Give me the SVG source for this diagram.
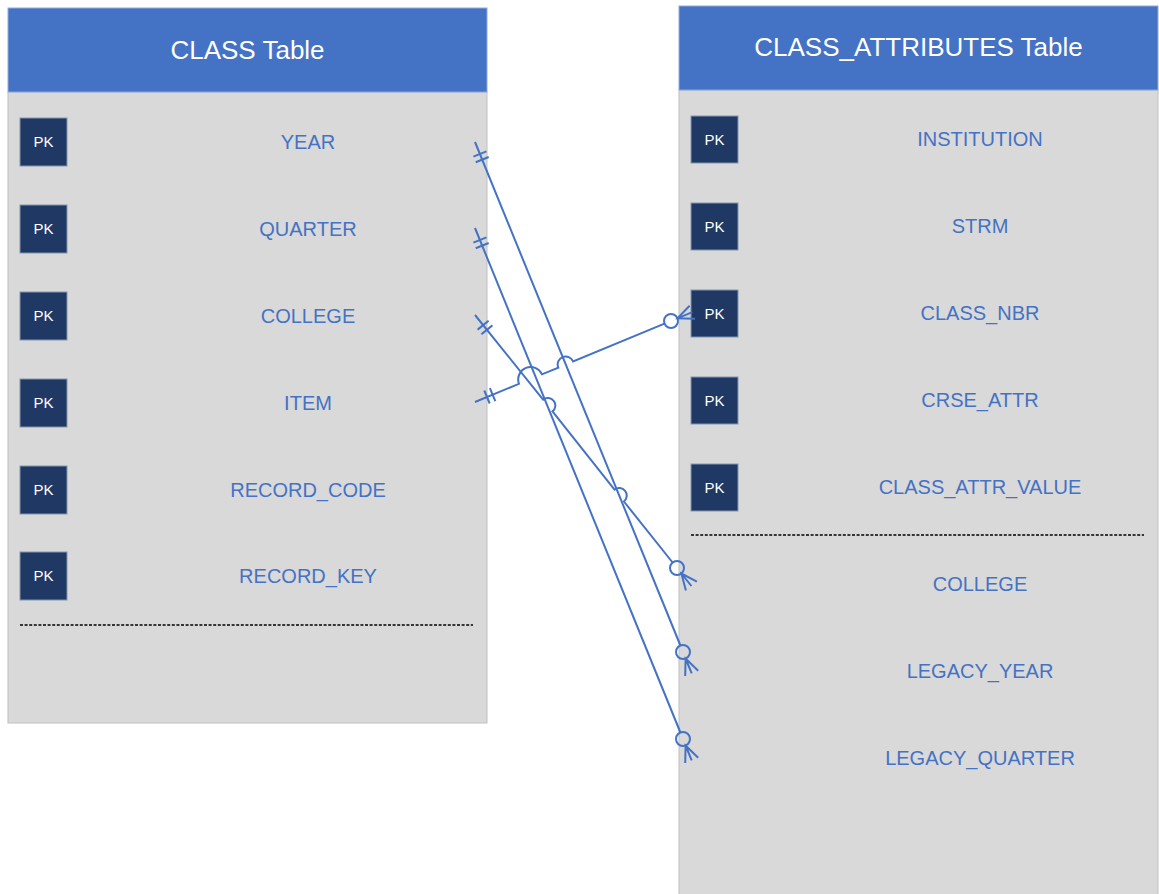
<svg xmlns="http://www.w3.org/2000/svg" width="1159" height="894" viewBox="0 0 1159 894">
<style>
.hdr{fill:#4472C4;stroke:#8FAADC;stroke-width:1}
.body{fill:#D9D9D9;stroke:#C0C0C0;stroke-width:1}
.title{font-family:"Liberation Sans",Arial,sans-serif;font-size:26px;fill:#FFFFFF;text-anchor:middle}
.field{font-family:"Liberation Sans",Arial,sans-serif;font-size:20px;fill:#4472C4;text-anchor:middle}
.pk{fill:#1F3864;stroke:#8497B0;stroke-width:1}
.pkt{font-family:"Liberation Sans",Arial,sans-serif;font-size:15px;fill:#FFFFFF;text-anchor:middle}
.dash{stroke:#000000;stroke-width:1.5;stroke-dasharray:3 1.6;fill:none}
.conn path,.conn line{stroke:#4472C4;stroke-width:2;fill:none}
.conn circle{stroke:#4472C4;stroke-width:2;fill:none}
</style>
<rect width="1159" height="894" fill="#FFFFFF"/>
<g id="class-table">
<rect class="body" x="8" y="92" width="479" height="631"/>
<rect class="hdr" x="8" y="8" width="479" height="84"/>
<text class="title" x="247.5" y="59">CLASS Table</text>
<rect class="pk" x="20" y="118" width="47" height="48"/><text class="pkt" x="43.5" y="147">PK</text><text class="field" x="308" y="149">YEAR</text>
<rect class="pk" x="20" y="205" width="47" height="48"/><text class="pkt" x="43.5" y="234">PK</text><text class="field" x="308" y="236">QUARTER</text>
<rect class="pk" x="20" y="292" width="47" height="48"/><text class="pkt" x="43.5" y="321">PK</text><text class="field" x="308" y="323">COLLEGE</text>
<rect class="pk" x="20" y="379" width="47" height="48"/><text class="pkt" x="43.5" y="408">PK</text><text class="field" x="308" y="410">ITEM</text>
<rect class="pk" x="20" y="466" width="47" height="48"/><text class="pkt" x="43.5" y="495">PK</text><text class="field" x="308" y="497">RECORD_CODE</text>
<rect class="pk" x="20" y="552" width="47" height="48"/><text class="pkt" x="43.5" y="581">PK</text><text class="field" x="308" y="583">RECORD_KEY</text>
<line class="dash" x1="20" y1="625" x2="473" y2="625"/>
</g>
<g id="class-attributes-table">
<rect class="body" x="679" y="90" width="479" height="805"/>
<rect class="hdr" x="679" y="6" width="479" height="84"/>
<text class="title" x="918.5" y="56">CLASS_ATTRIBUTES Table</text>
<rect class="pk" x="691" y="116" width="47" height="47"/><text class="pkt" x="714.5" y="145">PK</text><text class="field" x="980" y="146">INSTITUTION</text>
<rect class="pk" x="691" y="203" width="47" height="47"/><text class="pkt" x="714.5" y="232">PK</text><text class="field" x="980" y="233">STRM</text>
<rect class="pk" x="691" y="290" width="47" height="47"/><text class="pkt" x="714.5" y="319">PK</text><text class="field" x="980" y="320">CLASS_NBR</text>
<rect class="pk" x="691" y="377" width="47" height="47"/><text class="pkt" x="714.5" y="406">PK</text><text class="field" x="980" y="407">CRSE_ATTR</text>
<rect class="pk" x="691" y="464" width="47" height="47"/><text class="pkt" x="714.5" y="493">PK</text><text class="field" x="980" y="494">CLASS_ATTR_VALUE</text>
<line class="dash" x1="691" y1="535" x2="1144" y2="535"/>
<text class="field" x="980" y="591">COLLEGE</text>
<text class="field" x="980" y="678">LEGACY_YEAR</text>
<text class="field" x="980" y="765">LEGACY_QUARTER</text>
</g>
<g id="connectors" class="conn">
<g id="year-legacy-year">
<path d="M475 142 L680.4 645.5"/>
<line x1="473.4" y1="156.6" x2="486.4" y2="151.4"/>
<line x1="475.7" y1="162.2" x2="488.7" y2="157.0"/>
<circle cx="683" cy="652" r="7"/>
<path d="M698.2 670.7 L685.6 658.5 L685.2 675.9 M685.6 658.5 L691.7 673.3"/>
</g>
<g id="quarter-legacy-quarter">
<path d="M475 228 L680.4 732.5"/>
<line x1="473.4" y1="242.6" x2="486.4" y2="237.4"/>
<line x1="475.7" y1="248.2" x2="488.7" y2="243.0"/>
<circle cx="683" cy="739" r="7"/>
<path d="M698.2 757.7 L685.6 745.5 L685.2 762.9 M685.6 745.5 L691.7 760.3"/>
</g>
<g id="college-college">
<path d="M475 315 L543.1 399.6 A7.5 7.5 0 0 1 552.5 411.4 L614.5 489.7 A7.5 7.5 0 0 1 623.9 501.5 L672.6 562.5"/>
<line x1="477.6" y1="329.6" x2="488.6" y2="320.8"/>
<line x1="481.4" y1="334.2" x2="492.4" y2="325.4"/>
<circle cx="677" cy="568" r="7"/>
<path d="M696.9 581.6 L681.4 573.5 L685.9 590.4 M681.4 573.5 L691.4 586.0"/>
</g>
<g id="item-class-nbr">
<path d="M475 402 L519 383.8 A12.45 12.45 0 0 1 542 374.3 L558.3 367.6 A8 8 0 0 1 573.1 361.4 L664.5 323.7"/>
<line x1="484.3" y1="390.5" x2="489.7" y2="403.5"/>
<line x1="489.9" y1="388.2" x2="495.3" y2="401.2"/>
<circle cx="671" cy="321" r="7"/>
<path d="M695.0 318.7 L677.5 318.3 L689.6 305.7 M677.5 318.3 L692.3 312.2"/>
</g>
</g>
</svg>
